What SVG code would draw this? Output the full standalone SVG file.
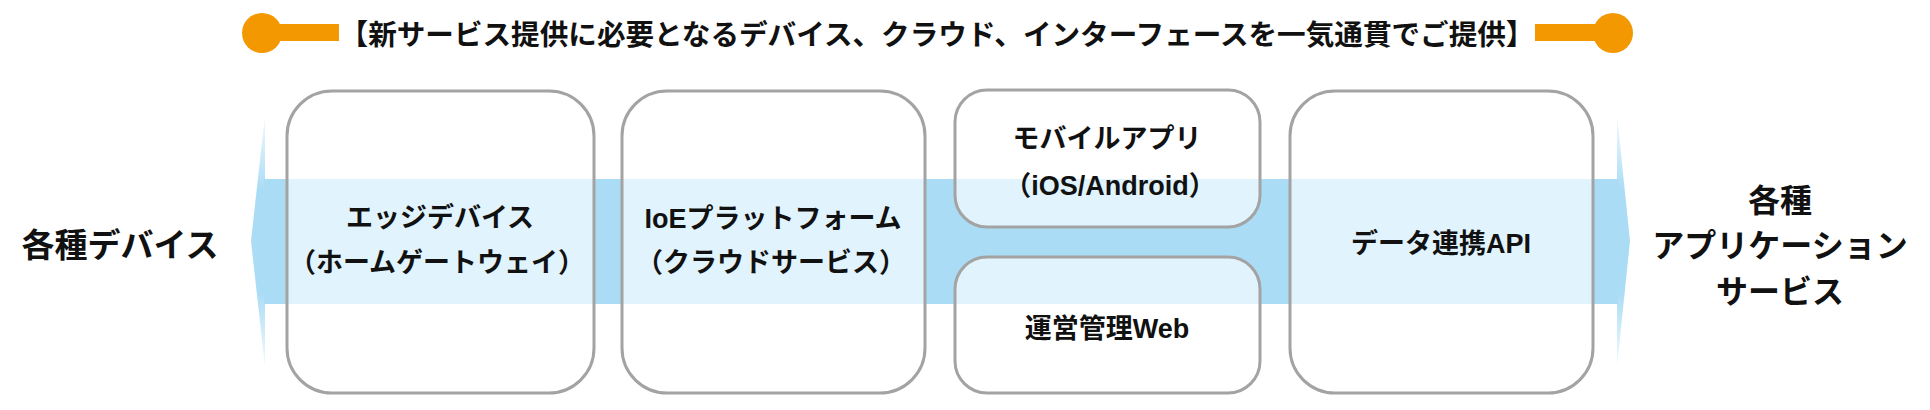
<svg xmlns="http://www.w3.org/2000/svg" width="1930" height="410" viewBox="0 0 1930 410">
<defs>
<style>
.t{font-family:"Noto Sans CJK JP","Noto Sans",sans-serif;font-weight:700;fill:#111;text-anchor:middle}
.lat{font-family:"Liberation Sans","Noto Sans CJK JP",sans-serif}
.big{font-size:32px}
.mid{font-size:27px}
.ttl{font-size:28.6px}
.node{fill:#ffffff;fill-opacity:0.65;stroke:#a3a3a3;stroke-width:3}
.band{fill:#aadcf5}
.org{fill:#f39800}
</style>
<linearGradient id="hg" gradientUnits="userSpaceOnUse" x1="0" y1="112" x2="0" y2="370">
<stop offset="0" stop-color="#aadcf5" stop-opacity="0.1"/>
<stop offset="0.3" stop-color="#aadcf5"/>
<stop offset="0.7" stop-color="#aadcf5"/>
<stop offset="1" stop-color="#aadcf5" stop-opacity="0.1"/>
</linearGradient>
</defs>
<rect width="1930" height="410" fill="#ffffff"/>
<g id="title">
<circle class="org" cx="262" cy="33" r="20"/>
<rect class="org" x="262" y="24" width="77" height="17"/>
<rect class="org" x="1535" y="24" width="78" height="17"/>
<circle class="org" cx="1613" cy="33" r="20"/>
<text class="t ttl" x="937" y="45">【新サービス提供に必要となるデバイス、クラウド、インターフェースを一気通貫でご提供】</text>
</g>
<g id="connectors">
<rect class="band" x="264" y="179" width="1354" height="125"/>
<polygon points="251,241 265,115 265,367" fill="url(#hg)"/>
<polygon points="1630,241 1617,115 1617,367" fill="url(#hg)"/>
</g>
<g id="devices">
<text class="t big" x="120" y="257" style="font-size:33px">各種デバイス</text>
</g>
<g id="edge">
<rect class="node" x="287" y="91" width="307" height="302" rx="45"/>
<text class="t mid" x="440" y="227">エッジデバイス</text>
<text class="t mid" x="437" y="272">（ホームゲートウェイ）</text>
</g>
<g id="ioe">
<rect class="node" x="622" y="91" width="303" height="302" rx="45"/>
<text class="t mid" x="773" y="228"><tspan class="lat">IoE</tspan>プラットフォーム</text>
<text class="t mid" x="771" y="272">（クラウドサービス）</text>
</g>
<g id="mobile">
<rect class="node" x="955" y="90" width="305" height="137" rx="32"/>
<text class="t mid" x="1107" y="148">モバイルアプリ</text>
<text class="t mid" x="1110" y="195">（<tspan class="lat">iOS/Android</tspan>）</text>
</g>
<g id="web">
<rect class="node" x="955" y="257" width="305" height="136" rx="32"/>
<text class="t mid" x="1107" y="338">運営管理<tspan class="lat">Web</tspan></text>
</g>
<g id="api">
<rect class="node" x="1290" y="91" width="303" height="302" rx="45"/>
<text class="t mid" x="1441" y="253">データ連携<tspan class="lat">API</tspan></text>
</g>
<g id="apps">
<text class="t big" x="1780" y="212">各種</text>
<text class="t big" x="1780" y="257">アプリケーション</text>
<text class="t big" x="1780" y="303">サービス</text>
</g>
</svg>
